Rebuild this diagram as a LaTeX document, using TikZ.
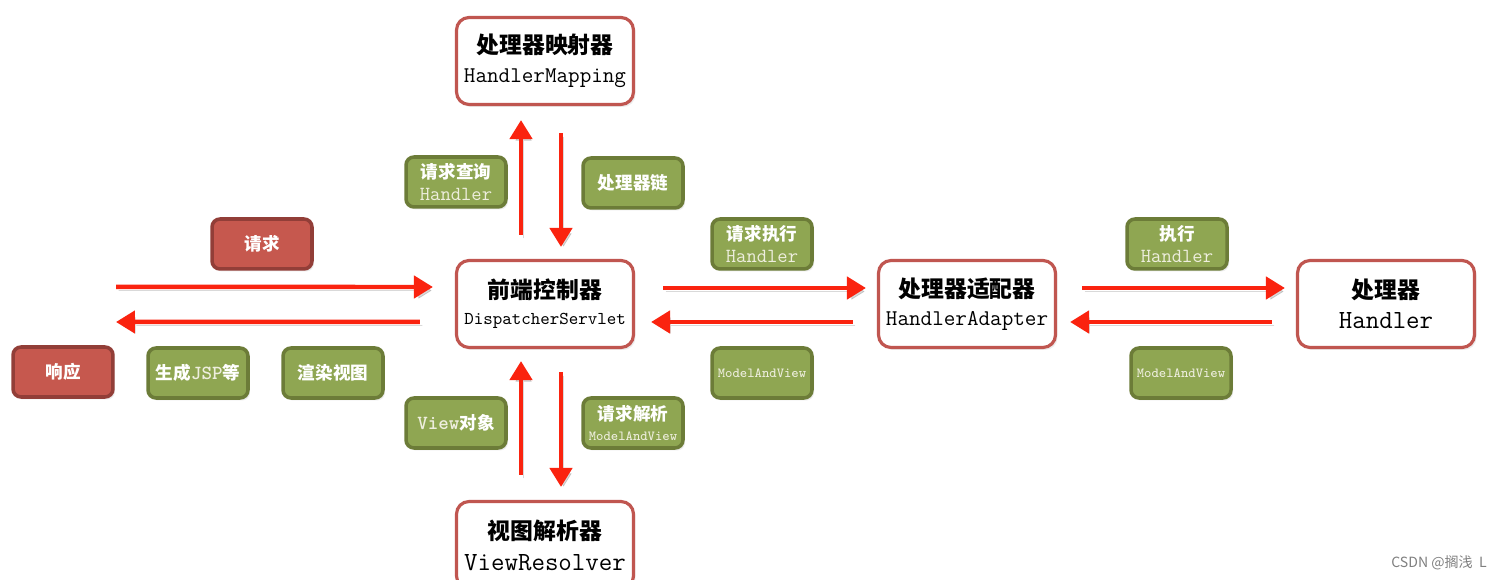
\documentclass[tikz,border=0pt]{standalone}
\usepackage{fontspec}
\newfontfamily\cjk{Noto Sans CJK SC}
\usetikzlibrary{arrows.meta,shadows}
\definecolor{boxred}{RGB}{192,86,80}
\definecolor{arrred}{RGB}{250,35,15}
\definecolor{gfill}{RGB}{143,166,82}
\definecolor{gdraw}{RGB}{108,124,56}
\definecolor{rfill}{RGB}{198,88,78}
\definecolor{rdraw}{RGB}{146,62,56}
\definecolor{cream}{RGB}{238,238,222}
\newcommand\mytitle{\cjk\bfseries\fontsize{13}{16}\selectfont}
\newcommand\gcjk{\cjk\bfseries\fontsize{10}{12}\selectfont}
\newcommand\gmono{\ttfamily\color{cream}\fontsize{11.4}{12}\selectfont}
\newcommand\smono{\ttfamily\color{cream}\fontsize{7.9}{8}\selectfont}
\begin{document}
\begin{tikzpicture}[x=0.02cm,y=-0.02cm,
 mainbox/.style={draw=boxred, line width=1.8pt, fill=white, rounded corners=0.25cm,
   minimum width=3.54cm, minimum height=1.74cm, inner sep=0pt, align=center,
   drop shadow={opacity=0.15,shadow xshift=0.04cm,shadow yshift=-0.05cm}},
 gbox/.style={draw=gdraw, line width=2pt, fill=gfill, rounded corners=0.16cm,
   minimum width=2.0cm, minimum height=1.0cm, inner sep=0pt, align=center, text=white,
   drop shadow={opacity=0.15,shadow xshift=0.04cm,shadow yshift=-0.05cm}},
 rbox/.style={gbox, draw=rdraw, fill=rfill},
 arr/.style={line width=0.09cm, draw=arrred, -{Triangle[length=0.38cm,width=0.44cm]},
   preaction={draw=black,opacity=0.15,transform canvas={shift={(0.05cm,-0.07cm)}}}}
]
\fill[white] (0,0) rectangle (1497,580);
\useasboundingbox (0,0) rectangle (1497,580);

% main boxes
\node[mainbox, font=\fontsize{13}{16.4}\selectfont] (hm) at (545,61)
  {{\mytitle 处理器映射器}\\{\ttfamily\fontsize{12.8}{13}\selectfont HandlerMapping}};
\node[mainbox, font=\fontsize{13}{14.8}\selectfont] (ds) at (545,304)
  {{\mytitle 前端控制器}\\{\ttfamily\fontsize{10.3}{11}\selectfont DispatcherServlet}};
\node[mainbox, font=\fontsize{13}{15.9}\selectfont] (ha) at (967,304)
  {{\mytitle 处理器适配器}\\{\ttfamily\fontsize{12.8}{13}\selectfont HandlerAdapter}};
\node[mainbox, font=\fontsize{13}{17}\selectfont] (h) at (1386,304)
  {{\mytitle 处理器}\\{\ttfamily\fontsize{14.9}{15}\selectfont Handler}};
\node[mainbox, font=\fontsize{13}{17.6}\selectfont] (vr) at (545,545)
  {{\mytitle 视图解析器}\\{\ttfamily\fontsize{14.9}{15}\selectfont ViewResolver}};

% green labels
\node[gbox, font=\fontsize{10}{12.5}\selectfont] (qh) at (456,182) {{\gcjk 请求查询}\\{\gmono Handler}};
\node[gbox] (chain) at (633,183) {\gcjk 处理器链};
\node[gbox, font=\fontsize{10}{12.5}\selectfont] (qe) at (762,244) {{\gcjk 请求执行}\\{\gmono Handler}};
\node[gbox, font=\fontsize{10}{12.5}\selectfont] (ex) at (1177,244) {{\gcjk 执行}\\{\gmono Handler}};
\node[gbox] (mv1) at (762,373) {\smono ModelAndView};
\node[gbox] (mv2) at (1181,373) {\smono ModelAndView};
\node[gbox] (jsp) at (198,373) {\gcjk 生成{\gmono JSP}等};
\node[gbox] (render) at (333,373) {\gcjk 渲染视图};
\node[gbox] (vo) at (456,423) {\gcjk{\gmono View}对象};
\node[gbox, font=\fontsize{10}{11.3}\selectfont] (qp) at (633,423) {{\gcjk 请求解析}\\{\smono ModelAndView}};

% red labels
\node[rbox] (req) at (262,244) {\gcjk 请求};
\node[rbox] (resp) at (63,372) {\gcjk 响应};

% free ends
\coordinate (reqL) at (116,287);
\coordinate (respL) at (116,322);

% arrows
\draw[arr, shorten >=0.44cm] (reqL) -- ([yshift=0.34cm]ds.west);
\draw[arr, shorten <=0.7cm] ([yshift=-0.36cm]ds.west) -- (respL);

\draw[arr, shorten <=0.56cm, shorten >=0.22cm] ([yshift=0.32cm]ds.east) -- ([yshift=0.32cm]ha.west);
\draw[arr, shorten <=0.48cm, shorten >=0.32cm] ([yshift=-0.36cm]ha.west) -- ([yshift=-0.36cm]ds.east);

\draw[arr, shorten <=0.5cm, shorten >=0.22cm] ([yshift=0.32cm]ha.east) -- ([yshift=0.32cm]h.west);
\draw[arr, shorten <=0.48cm, shorten >=0.26cm] ([yshift=-0.36cm]h.west) -- ([yshift=-0.36cm]ha.east);

\draw[arr, shorten <=0.48cm, shorten >=0.28cm] ([xshift=-0.48cm]ds.north) -- ([xshift=-0.48cm]hm.south);
\draw[arr, shorten <=0.54cm, shorten >=0.24cm] ([xshift=0.32cm]hm.south) -- ([xshift=0.32cm]ds.north);

\draw[arr, shorten <=0.5cm, shorten >=0.24cm] ([xshift=-0.48cm]vr.north) -- ([xshift=-0.48cm]ds.south);
\draw[arr, shorten <=0.46cm, shorten >=0.26cm] ([xshift=0.32cm]ds.south) -- ([xshift=0.32cm]vr.north);

% watermark
\node[text=black!50, font=\cjk\fontsize{8}{10}\selectfont, anchor=east, inner sep=0pt] (wm) at (1487,563) {CSDN @搁浅\ \ L};
\end{tikzpicture}
\end{document}
